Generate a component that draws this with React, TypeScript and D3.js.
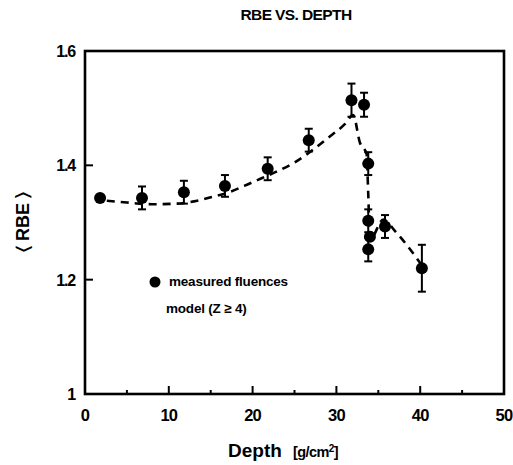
import React from "react";
import * as d3 from "d3";

const depth = [1.8, 6.8, 11.8, 16.7, 21.8, 26.7, 31.8, 33.3, 33.8, 33.8, 34.0, 33.8, 35.8, 40.2];
const rbe = [1.343, 1.343, 1.353, 1.364, 1.394, 1.444, 1.514, 1.506, 1.403, 1.303, 1.275, 1.253, 1.293, 1.22];
const rbeErr = [0, 0.02, 0.02, 0.019, 0.02, 0.02, 0.029, 0.021, 0.02, 0.02, 0, 0.021, 0.02, 0.041];

const modelDepth = [2.6, 5, 8, 11, 13, 15, 17, 19, 21, 23, 25, 27, 29, 31, 32, 32.8, 33.6, 33.8, 34.0, 35.6, 37, 40.2];
const modelRbe = [1.338, 1.335, 1.332, 1.333, 1.337, 1.344, 1.352, 1.364, 1.377, 1.39, 1.405, 1.425, 1.448, 1.472, 1.488, 1.44, 1.42, 1.35, 1.27, 1.305, 1.285, 1.225];

const xTickMajor = [0, 10, 20, 30, 40, 50];
const xTickMinor = [5, 15, 25, 35, 45];
const yTicks = [1, 1.2, 1.4, 1.6];
const yTickLabels = ["1", "1.2", "1.4", "1.6"];

const W = 513, H = 465;
const left = 85, right = 504, top = 51, bottom = 394;
const font = "'Liberation Sans', Arial, Helvetica, sans-serif";

export default function App() {
  const x = d3.scaleLinear().domain([0, 50]).range([left, right]);
  const y = d3.scaleLinear().domain([1, 1.6]).range([bottom, top]);
  const line = d3
    .line<number>()
    .x((_, i) => x(modelDepth[i]))
    .y((d) => y(d))
    .curve(d3.curveMonotoneX);
  const modelPath = line(modelRbe) || "";

  return (
    <svg width={W} height={H} style={{ position: "absolute", left: 0, top: 0, background: "#fff" }}>
      <rect x={0} y={0} width={W} height={H} fill="#fff" />
      <text x={296} y={20} textAnchor="middle" fontFamily={font} fontWeight="bold" fontSize={15.5} letterSpacing={-0.6}>
        RBE VS. DEPTH
      </text>

      {/* ticks */}
      {yTicks.slice(1, 3).map((t) => (
        <line key={"yt" + t} x1={left} x2={left + 8} y1={y(t)} y2={y(t)} stroke="#000" strokeWidth={2} />
      ))}
      {xTickMajor.slice(1, 5).map((t) => (
        <line key={"xt" + t} x1={x(t)} x2={x(t)} y1={bottom} y2={bottom - 8} stroke="#000" strokeWidth={2} />
      ))}
      {xTickMinor.map((t) => (
        <line key={"xm" + t} x1={x(t)} x2={x(t)} y1={bottom} y2={bottom - 4} stroke="#000" strokeWidth={2} />
      ))}

      <rect x={left} y={top} width={right - left} height={bottom - top} fill="none" stroke="#000" strokeWidth={2.6} />

      {/* tick labels */}
      {yTicks.map((t, i) => (
        <text key={"yl" + t} x={75} y={y(t) + 6} textAnchor="end" fontFamily={font} fontWeight="bold" fontSize={16} letterSpacing={-1.2}>
          {yTickLabels[i]}
        </text>
      ))}
      {xTickMajor.map((t) => (
        <text key={"xl" + t} x={x(t)} y={421} textAnchor="middle" fontFamily={font} fontWeight="bold" fontSize={16.5} letterSpacing={-0.8}>
          {t}
        </text>
      ))}

      {/* axis titles */}
      <text transform="translate(29,222) rotate(-90)" textAnchor="middle" fontFamily={font} fontWeight="bold" fontSize={18}>
        {"\u2329 RBE \u232A"}
      </text>
      <text x={228} y={457} fontFamily={font} fontWeight="bold" fontSize={19}>
        Depth
      </text>
      <text x={293} y={457} fontFamily={font} fontWeight="bold" fontSize={14.5} letterSpacing={-0.6}>
        [g/cm<tspan dy={-5} fontSize={10}>2</tspan><tspan dy={5}>]</tspan>
      </text>

      {/* model */}
      <path d={modelPath} fill="none" stroke="#000" strokeWidth={2.6} strokeDasharray="8,6" />

      {/* data */}
      {depth.map((d, i) => {
        const cx = x(d), cy = y(rbe[i]);
        const e = rbeErr[i];
        return (
          <g key={"p" + i}>
            {e > 0 && (
              <g stroke="#000" strokeWidth={2}>
                <line x1={cx} x2={cx} y1={y(rbe[i] + e)} y2={y(rbe[i] - e)} />
                <line x1={cx - 4} x2={cx + 4} y1={y(rbe[i] + e)} y2={y(rbe[i] + e)} />
                <line x1={cx - 4} x2={cx + 4} y1={y(rbe[i] - e)} y2={y(rbe[i] - e)} />
              </g>
            )}
            <circle cx={cx} cy={cy} r={6} fill="#000" />
          </g>
        );
      })}

      {/* legend */}
      <circle cx={155} cy={282} r={5.5} fill="#000" />
      <text x={169} y={286} fontFamily={font} fontWeight="bold" fontSize={13.5} letterSpacing={-0.2}>
        measured fluences
      </text>
      <text x={166} y={313} fontFamily={font} fontWeight="bold" fontSize={13.5} letterSpacing={-0.2}>
        {"model (Z \u2265 4)"}
      </text>
    </svg>
  );
}
